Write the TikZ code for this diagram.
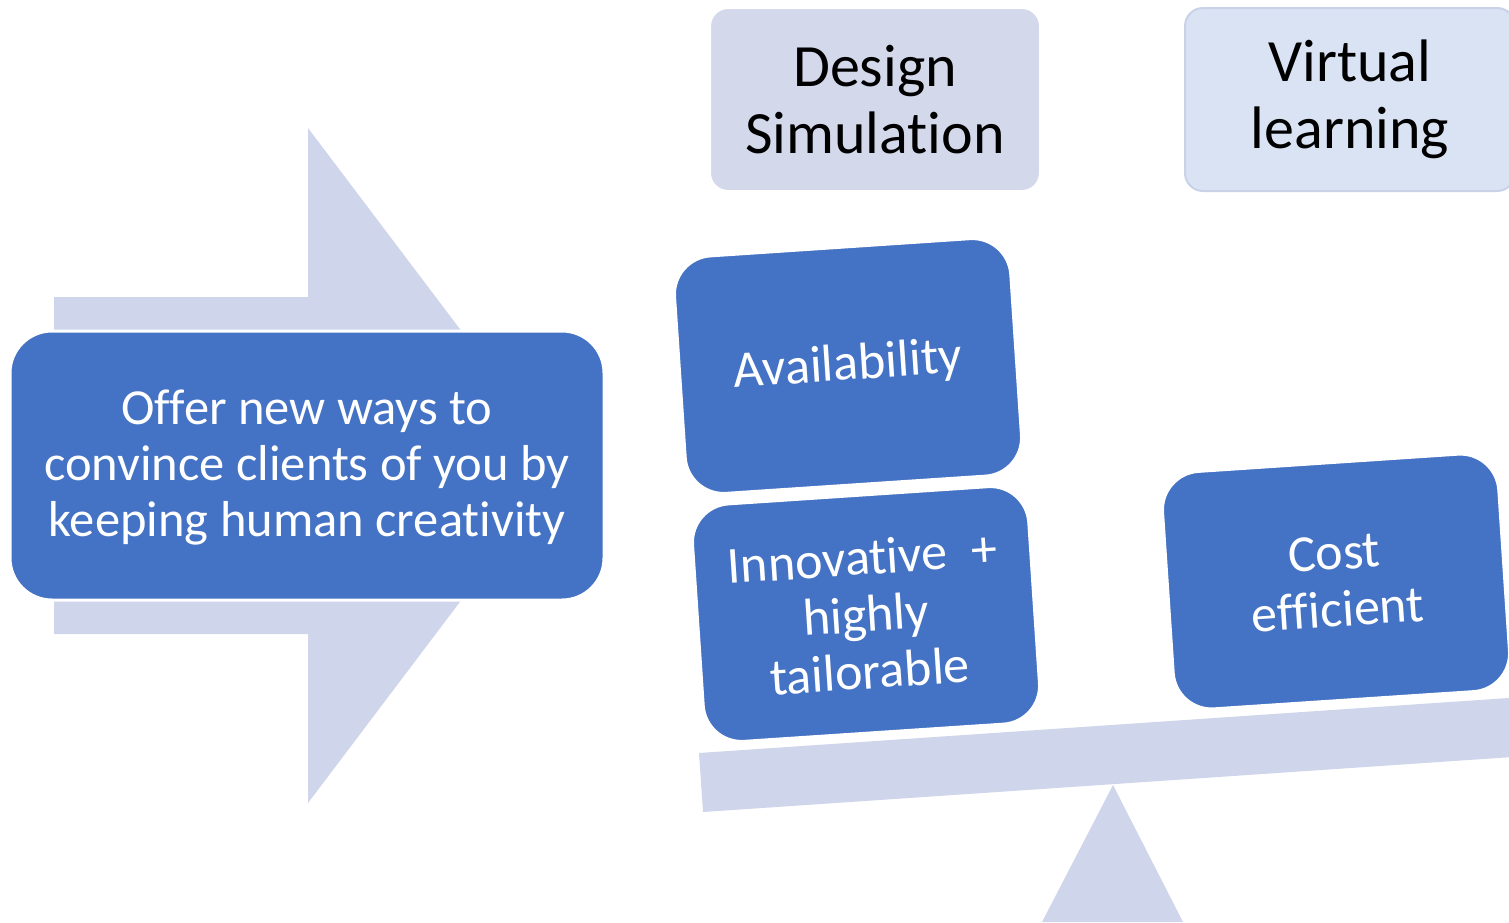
\documentclass[tikz,border=0pt]{standalone}
\usepackage{fontspec}
\setmainfont{Carlito}[Ligatures={NoCommon,NoContextual}]
\definecolor{blueb}{HTML}{4472C4}
\definecolor{lav}{HTML}{CFD5EA}
\definecolor{lavbox}{HTML}{D3D9EB}
\definecolor{vbox}{HTML}{DAE3F3}
\definecolor{vborder}{HTML}{C9D3E8}
\begin{document}
\begin{tikzpicture}[x=1pt,y=-1pt,
  bluebox/.style={draw=white, line width=2pt, fill=blueb, rounded corners=38pt,
    text=white, align=center, inner sep=0pt, minimum width=336pt,
    minimum height=237pt, rotate=3.8, font=\fontsize{52}{57}\selectfont},
  mainbox/.style={draw=white, line width=3pt, fill=blueb, rounded corners=42pt,
    text=white, align=center, inner sep=0pt, minimum width=594pt,
    minimum height=269pt, font=\fontsize{50.5}{56}\selectfont},
  topbox/.style={line width=2pt, rounded corners=18pt, text=black, align=center,
    inner sep=0pt, minimum width=330pt, minimum height=183pt,
    font=\fontsize{60}{67}\selectfont},
  lavshape/.style={fill=lav, draw=none}]
\useasboundingbox (0,0) rectangle (1509,922);
\clip (0,0) rectangle (1509,922);
% big arrow behind the main box
\path[lavshape] (54,297) -- (308,297) -- (308,128) -- (563,465.5)
  -- (308,803) -- (308,634) -- (54,634) -- cycle;
\node[mainbox] (offer) at (307,465.5) {};
\node[text=white, align=center, inner sep=0pt, font=\fontsize{50.5}{56}\selectfont]
  (offertext) at (307,468)
  {Offer new ways to\\convince clients of you by\\keeping human creativity};
% top boxes
\node[topbox, fill=lavbox, draw=white] (design) at (875,99.5) {Design\\Simulation};
\node[topbox, fill=vbox, draw=vborder] (virtual) at (1350,99.5) {Virtual\\learning};
% beam and fulcrum
\path[lavshape] (699,753) -- (1597,692) -- (1601,751) -- (703,812) -- cycle;
\path[lavshape] (1113,785) -- (1183,922) -- (1042,922) -- cycle;
% tilted boxes
\node[bluebox] (avail) at (848,366) {Availability};
\node[bluebox] (innov) at (866,614) {Innovative~~+\\highly\\tailorable};
\node[bluebox] (cost) at (1336,581.5) {Cost\\efficient};
\end{tikzpicture}
\end{document}
